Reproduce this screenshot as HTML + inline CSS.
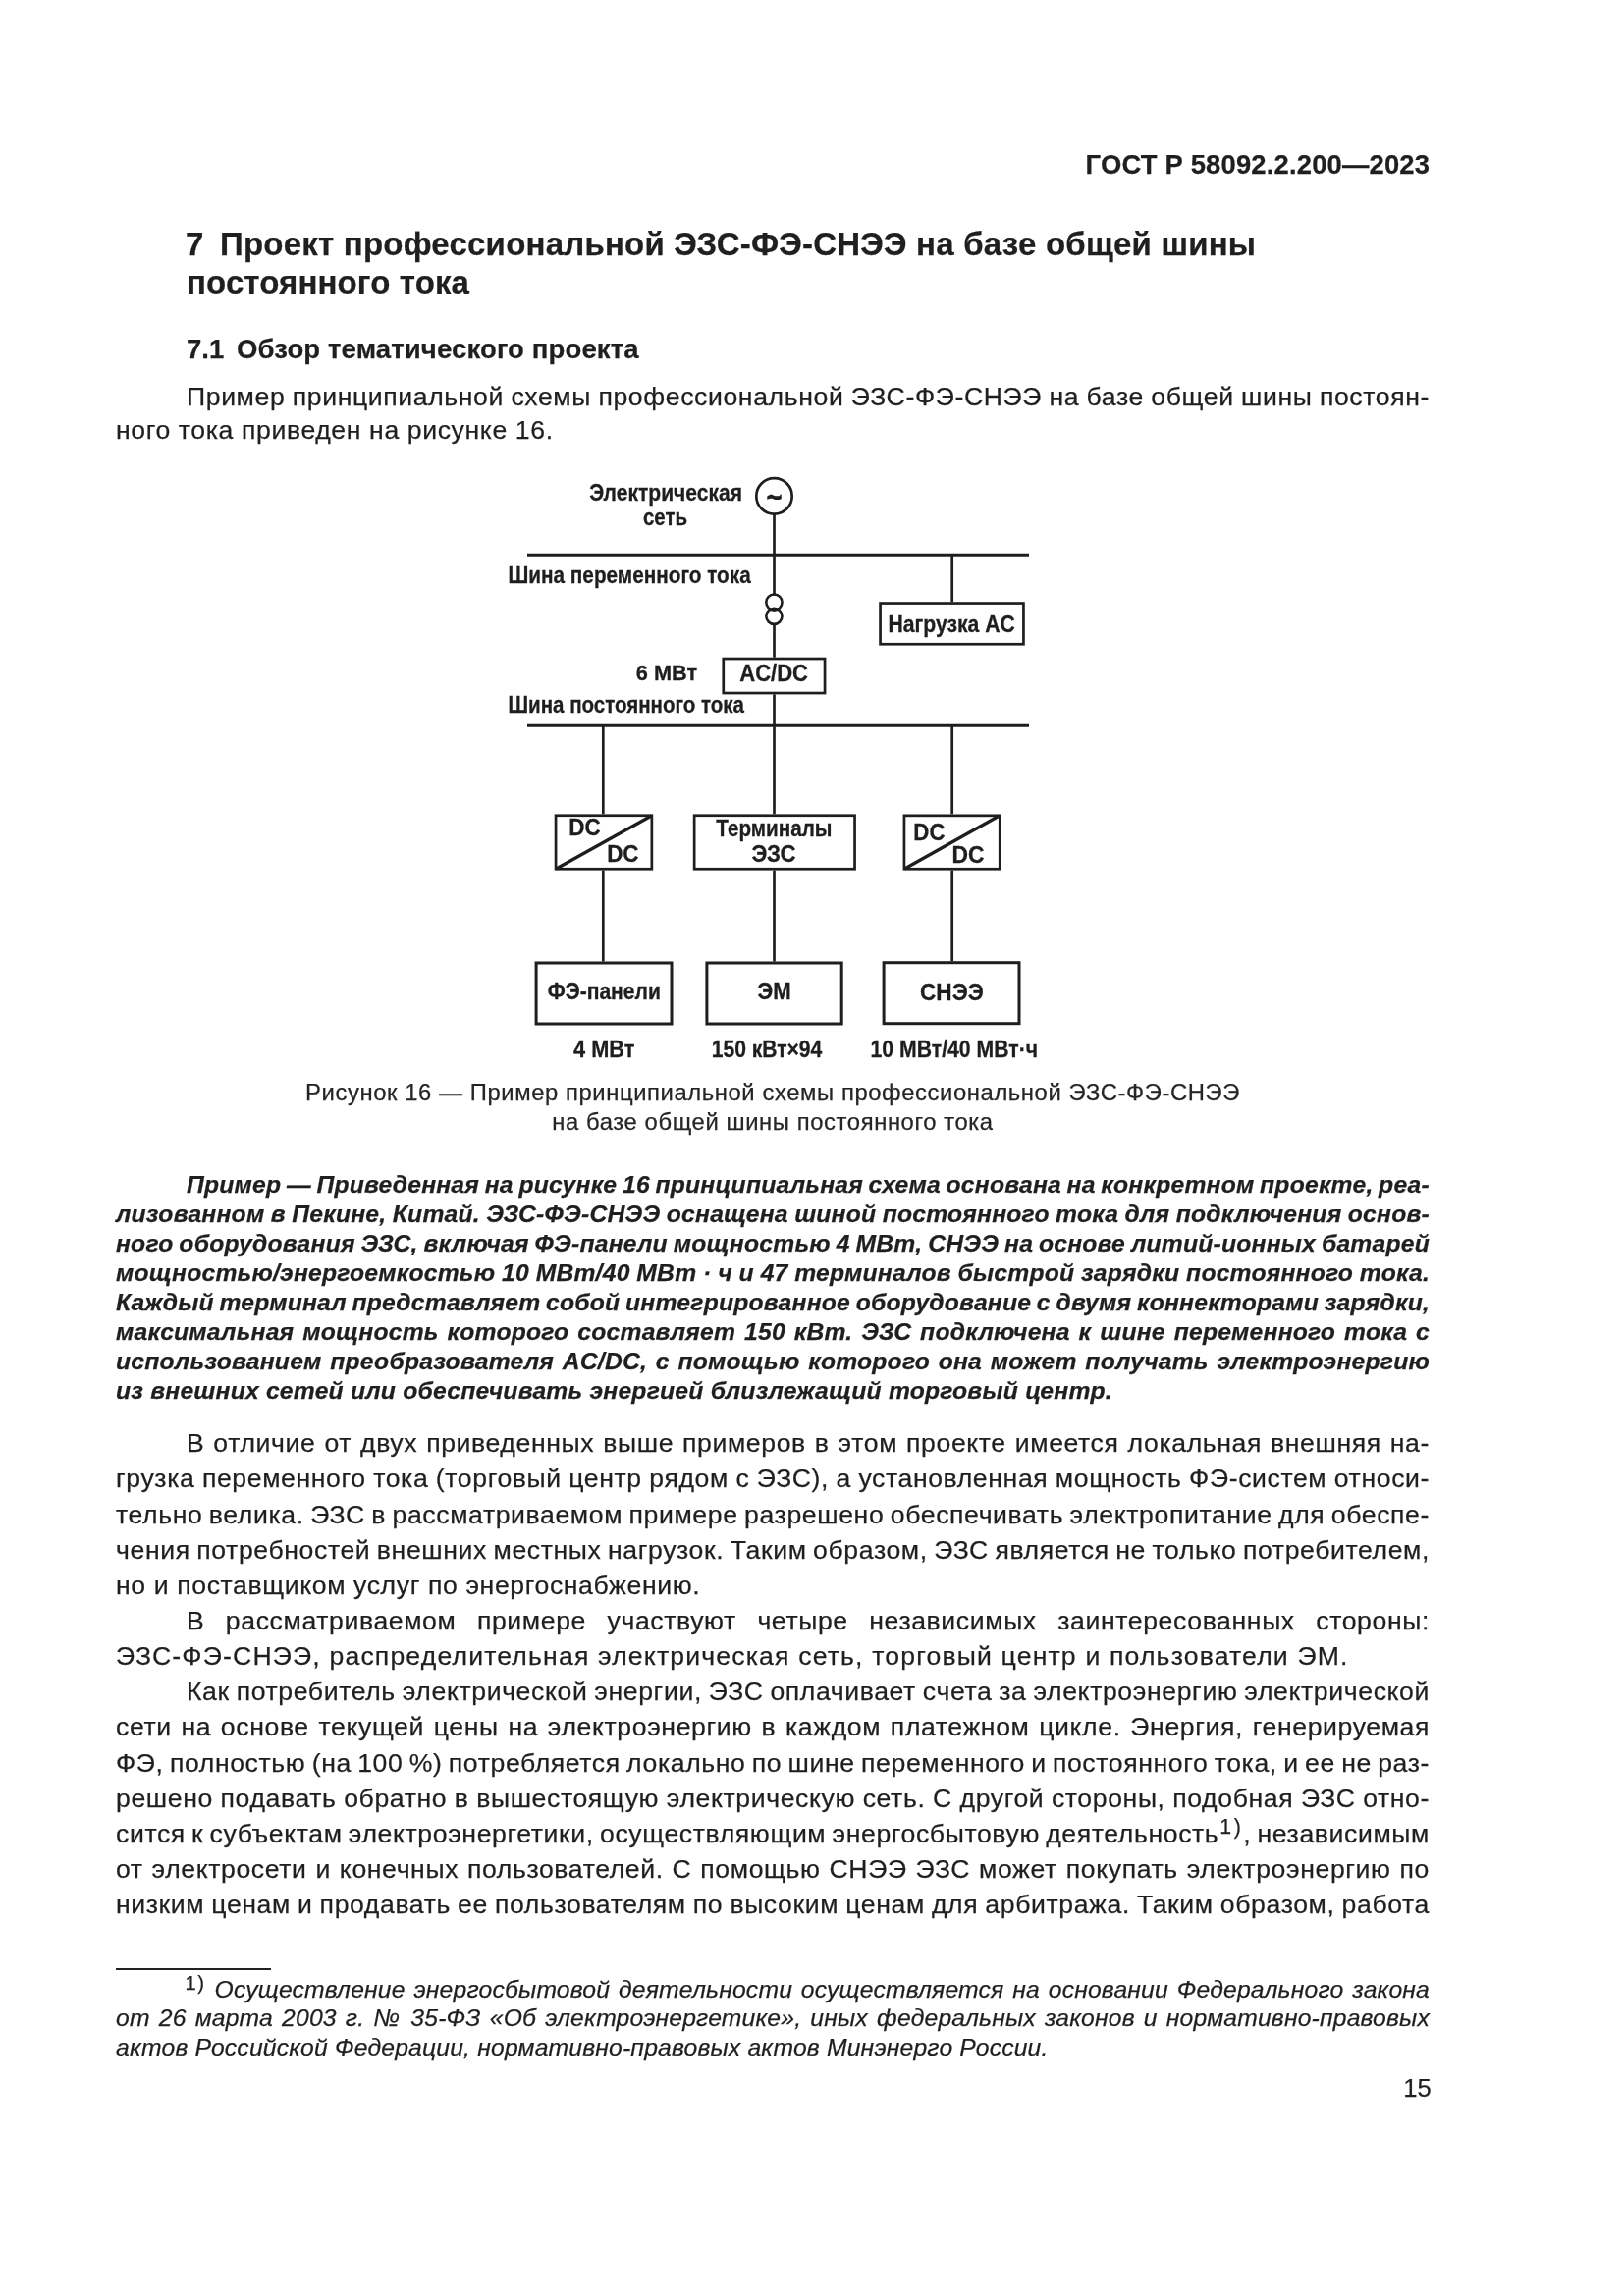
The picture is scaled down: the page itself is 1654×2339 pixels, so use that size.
<!DOCTYPE html>
<html><head><meta charset="utf-8">
<style>
html,body{margin:0;padding:0;background:#fff;}
body{width:1654px;height:2339px;position:relative;overflow:hidden;font-family:"Liberation Sans",sans-serif;color:#1f1f1f;}
.l{position:absolute;white-space:nowrap;will-change:transform;-webkit-text-stroke:0.25px #1f1f1f;}
.b{font-weight:bold;}
.bi{font-weight:bold;font-style:italic;}
.it{font-style:italic;}
.cap{color:#262626;}
sup{font-size:80%;line-height:0;vertical-align:0.43em;letter-spacing:2.5px;margin-left:1px;}
sup.fs{font-style:normal;font-size:82%;vertical-align:0.42em;letter-spacing:1.6px;margin-left:-1.5px;}
</style></head><body>
<div class="l b" style="left:118.0px;top:153.8px;font-size:27.4px;line-height:27.4px;width:1338.2px;text-align:right;letter-spacing:0.180px;">ГОСТ Р 58092.2.200—2023</div><div class="l b" style="left:189.0px;top:232.1px;font-size:33px;line-height:33px;">7</div><div class="l b" style="left:224.0px;top:232.1px;font-size:33px;line-height:33px;letter-spacing:0.220px;">Проект профессиональной ЭЗС-ФЭ-СНЭЭ на базе общей шины</div><div class="l b" style="left:189.5px;top:271.1px;font-size:33px;line-height:33px;letter-spacing:0.120px;">постоянного тока</div><div class="l b" style="left:189.5px;top:341.7px;font-size:27.5px;line-height:27.5px;">7.1</div><div class="l b" style="left:241.0px;top:341.7px;font-size:27.5px;line-height:27.5px;letter-spacing:0.130px;">Обзор тематического проекта</div><div class="l " style="left:190.0px;top:391.3px;font-size:26.6px;line-height:26.6px;width:1266.0px;text-align:justify;text-align-last:justify;letter-spacing:0.620px;word-spacing:-0.74px;">Пример принципиальной схемы профессиональной ЭЗС-ФЭ-СНЭЭ на базе общей шины постоян-</div><div class="l " style="left:118.0px;top:424.7px;font-size:26.6px;line-height:26.6px;width:1338.0px;letter-spacing:0.620px;">ного тока приведен на рисунке 16.</div><div class="l cap" style="left:118.0px;top:1101.4px;font-size:23.8px;line-height:23.8px;width:1338.0px;text-align:center;letter-spacing:0.600px;">Рисунок 16 — Пример принципиальной схемы профессиональной ЭЗС-ФЭ-СНЭЭ</div><div class="l cap" style="left:118.0px;top:1130.9px;font-size:23.8px;line-height:23.8px;width:1338.0px;text-align:center;letter-spacing:0.600px;">на базе общей шины постоянного тока</div><div class="l bi" style="left:190.0px;top:1194.8px;font-size:24.7px;line-height:24.7px;width:1266.0px;text-align:justify;text-align-last:justify;letter-spacing:0.210px;word-spacing:-1.57px;">Пример — Приведенная на рисунке 16 принципиальная схема основана на конкретном проекте, реа-</div><div class="l bi" style="left:118.0px;top:1224.8px;font-size:24.7px;line-height:24.7px;width:1338.0px;text-align:justify;text-align-last:justify;letter-spacing:0.210px;word-spacing:-0.83px;">лизованном в Пекине, Китай. ЭЗС-ФЭ-СНЭЭ оснащена шиной постоянного тока для подключения основ-</div><div class="l bi" style="left:118.0px;top:1254.8px;font-size:24.7px;line-height:24.7px;width:1338.0px;text-align:justify;text-align-last:justify;letter-spacing:0.210px;word-spacing:-1.32px;">ного оборудования ЭЗС, включая ФЭ-панели мощностью 4 МВт, СНЭЭ на основе литий-ионных батарей</div><div class="l bi" style="left:118.0px;top:1284.8px;font-size:24.7px;line-height:24.7px;width:1338.0px;text-align:justify;text-align-last:justify;letter-spacing:0.210px;word-spacing:-0.45px;">мощностью/энергоемкостью 10 МВт/40 МВт · ч и 47 терминалов быстрой зарядки постоянного тока.</div><div class="l bi" style="left:118.0px;top:1314.8px;font-size:24.7px;line-height:24.7px;width:1338.0px;text-align:justify;text-align-last:justify;letter-spacing:0.210px;word-spacing:-1.59px;">Каждый терминал представляет собой интегрированное оборудование с двумя коннекторами зарядки,</div><div class="l bi" style="left:118.0px;top:1344.8px;font-size:24.7px;line-height:24.7px;width:1338.0px;text-align:justify;text-align-last:justify;letter-spacing:0.210px;">максимальная мощность которого составляет 150 кВт. ЭЗС подключена к шине переменного тока с</div><div class="l bi" style="left:118.0px;top:1374.8px;font-size:24.7px;line-height:24.7px;width:1338.0px;text-align:justify;text-align-last:justify;letter-spacing:0.210px;">использованием преобразователя AC/DC, с помощью которого она может получать электроэнергию</div><div class="l bi" style="left:118.0px;top:1404.8px;font-size:24.7px;line-height:24.7px;width:1338.0px;letter-spacing:0.210px;">из внешних сетей или обеспечивать энергией близлежащий торговый центр.</div><div class="l " style="left:190.0px;top:1457.2px;font-size:26.6px;line-height:26.6px;width:1266.0px;text-align:justify;text-align-last:justify;letter-spacing:0.620px;">В отличие от двух приведенных выше примеров в этом проекте имеется локальная внешняя на-</div><div class="l " style="left:118.0px;top:1493.3px;font-size:26.6px;line-height:26.6px;width:1338.0px;text-align:justify;text-align-last:justify;letter-spacing:0.620px;word-spacing:-0.60px;">грузка переменного тока (торговый центр рядом с ЭЗС), а установленная мощность ФЭ-систем относи-</div><div class="l " style="left:118.0px;top:1529.5px;font-size:26.6px;line-height:26.6px;width:1338.0px;text-align:justify;text-align-last:justify;letter-spacing:0.620px;word-spacing:-1.66px;">тельно велика. ЭЗС в рассматриваемом примере разрешено обеспечивать электропитание для обеспе-</div><div class="l " style="left:118.0px;top:1565.6px;font-size:26.6px;line-height:26.6px;width:1338.0px;text-align:justify;text-align-last:justify;letter-spacing:0.620px;word-spacing:-1.58px;">чения потребностей внешних местных нагрузок. Таким образом, ЭЗС является не только потребителем,</div><div class="l " style="left:118.0px;top:1601.8px;font-size:26.6px;line-height:26.6px;width:1338.0px;letter-spacing:0.620px;">но и поставщиком услуг по энергоснабжению.</div><div class="l " style="left:190.0px;top:1637.9px;font-size:26.6px;line-height:26.6px;width:1266.0px;text-align:justify;text-align-last:justify;letter-spacing:0.620px;">В рассматриваемом примере участвуют четыре независимых заинтересованных стороны:</div><div class="l " style="left:118.0px;top:1674.1px;font-size:26.6px;line-height:26.6px;width:1338.0px;letter-spacing:1.170px;">ЭЗС-ФЭ-СНЭЭ, распределительная электрическая сеть, торговый центр и пользователи ЭМ.</div><div class="l " style="left:190.0px;top:1710.2px;font-size:26.6px;line-height:26.6px;width:1266.0px;text-align:justify;text-align-last:justify;letter-spacing:0.620px;word-spacing:-1.23px;">Как потребитель электрической энергии, ЭЗС оплачивает счета за электроэнергию электрической</div><div class="l " style="left:118.0px;top:1746.4px;font-size:26.6px;line-height:26.6px;width:1338.0px;text-align:justify;text-align-last:justify;letter-spacing:0.620px;">сети на основе текущей цены на электроэнергию в каждом платежном цикле. Энергия, генерируемая</div><div class="l " style="left:118.0px;top:1782.5px;font-size:26.6px;line-height:26.6px;width:1338.0px;text-align:justify;text-align-last:justify;letter-spacing:0.620px;word-spacing:-1.77px;">ФЭ, полностью (на 100 %) потребляется локально по шине переменного и постоянного тока, и ее не раз-</div><div class="l " style="left:118.0px;top:1818.7px;font-size:26.6px;line-height:26.6px;width:1338.0px;text-align:justify;text-align-last:justify;letter-spacing:0.620px;word-spacing:-0.48px;">решено подавать обратно в вышестоящую электрическую сеть. С другой стороны, подобная ЭЗС отно-</div><div class="l " style="left:118.0px;top:1854.8px;font-size:26.6px;line-height:26.6px;width:1338.0px;text-align:justify;text-align-last:justify;letter-spacing:0.620px;word-spacing:-2.16px;">сится к субъектам электроэнергетики, осуществляющим энергосбытовую деятельность<sup>1)</sup>, независимым</div><div class="l " style="left:118.0px;top:1891.0px;font-size:26.6px;line-height:26.6px;width:1338.0px;text-align:justify;text-align-last:justify;letter-spacing:0.620px;">от электросети и конечных пользователей. С помощью СНЭЭ ЭЗС может покупать электроэнергию по</div><div class="l " style="left:118.0px;top:1927.1px;font-size:26.6px;line-height:26.6px;width:1338.0px;text-align:justify;text-align-last:justify;letter-spacing:0.620px;word-spacing:-1.00px;">низким ценам и продавать ее пользователям по высоким ценам для арбитража. Таким образом, работа</div><div style="position:absolute;left:118px;top:2005px;width:158px;height:2.4px;background:#222"></div><div class="l it" style="left:190.0px;top:2014.9px;font-size:24.7px;line-height:24.7px;width:1266.0px;text-align:justify;text-align-last:justify;letter-spacing:0.185px;"><sup class="fs">1)</sup> Осуществление энергосбытовой деятельности осуществляется на основании Федерального закона</div><div class="l it" style="left:118.0px;top:2044.4px;font-size:24.7px;line-height:24.7px;width:1338.0px;text-align:justify;text-align-last:justify;letter-spacing:0.185px;">от 26 марта 2003 г. № 35-ФЗ «Об электроэнергетике», иных федеральных законов и нормативно-правовых</div><div class="l it" style="left:118.0px;top:2073.9px;font-size:24.7px;line-height:24.7px;width:1338.0px;letter-spacing:0.185px;">актов Российской Федерации, нормативно-правовых актов Минэнерго России.</div><div class="l " style="left:118.0px;top:2114.8px;font-size:25.6px;line-height:25.6px;width:1339.8px;text-align:right;">15</div>
<svg style="position:absolute;left:0;top:0;will-change:transform" width="1654" height="2339" viewBox="0 0 1654 2339" font-family="Liberation Sans, sans-serif" font-weight="bold" fill="#1e1e1e"><circle cx="788.5" cy="505.4" r="18.2" fill="none" stroke="#1e1e1e" stroke-width="2.7"/><path d="M781.2,508.8 L781.4,505.2 L785.2,503.5 L789.5,505.3 L793.4,505.3 L795.5,503.1 L795.9,508.0 L793.6,508.9 L789.4,508.9 L785.6,507.5 L782.8,508.3 Z" fill="#1e1e1e"/><line x1="788.5" y1="523.6" x2="788.5" y2="606.5" stroke="#1e1e1e" stroke-width="2.7"/><line x1="537" y1="565.3" x2="1048" y2="565.3" stroke="#1e1e1e" stroke-width="3"/><circle cx="788.4" cy="613.6" r="8.1" fill="none" stroke="#1e1e1e" stroke-width="2.6"/><circle cx="788.4" cy="627.8" r="8.1" fill="none" stroke="#1e1e1e" stroke-width="2.6"/><line x1="788.5" y1="635.5" x2="788.5" y2="669.7" stroke="#1e1e1e" stroke-width="2.7"/><rect x="736.75" y="671.05" width="103.30" height="35.00" fill="none" stroke="#1e1e1e" stroke-width="2.7"/><line x1="788.5" y1="707.4" x2="788.5" y2="829.4" stroke="#1e1e1e" stroke-width="2.7"/><line x1="969.7" y1="565.3" x2="969.7" y2="613.2" stroke="#1e1e1e" stroke-width="2.7"/><rect x="896.55" y="614.55" width="145.90" height="41.70" fill="none" stroke="#1e1e1e" stroke-width="2.7"/><line x1="537" y1="739.3" x2="1048" y2="739.3" stroke="#1e1e1e" stroke-width="3"/><line x1="614.3" y1="739.3" x2="614.3" y2="829.4" stroke="#1e1e1e" stroke-width="2.7"/><line x1="969.7" y1="739.3" x2="969.7" y2="829.4" stroke="#1e1e1e" stroke-width="2.7"/><rect x="566.05" y="830.75" width="97.80" height="54.50" fill="none" stroke="#1e1e1e" stroke-width="2.7"/><line x1="566.5" y1="885" x2="663.5" y2="831" stroke="#1e1e1e" stroke-width="3.2"/><line x1="614.3" y1="886.6" x2="614.3" y2="979.5" stroke="#1e1e1e" stroke-width="2.7"/><rect x="707.15" y="830.75" width="163.40" height="54.50" fill="none" stroke="#1e1e1e" stroke-width="2.7"/><line x1="788.5" y1="886.6" x2="788.5" y2="979.5" stroke="#1e1e1e" stroke-width="2.7"/><rect x="920.95" y="830.85" width="97.30" height="54.40" fill="none" stroke="#1e1e1e" stroke-width="2.7"/><line x1="921.4" y1="885" x2="1017.8" y2="831" stroke="#1e1e1e" stroke-width="3.2"/><line x1="969.7" y1="886.6" x2="969.7" y2="979.2" stroke="#1e1e1e" stroke-width="2.7"/><rect x="546.10" y="981.00" width="137.90" height="62.00" fill="none" stroke="#1e1e1e" stroke-width="3"/><rect x="719.90" y="981.00" width="137.30" height="62.00" fill="none" stroke="#1e1e1e" stroke-width="3"/><rect x="900.10" y="980.70" width="137.90" height="62.00" fill="none" stroke="#1e1e1e" stroke-width="3"/><text transform="translate(600.15,509.6) scale(0.916,1)" x="0" y="0" font-size="23" stroke="#1e1e1e" stroke-width="0.3">Электрическая</text><text transform="translate(654.9,535.4) scale(0.891,1)" x="0" y="0" font-size="23" stroke="#1e1e1e" stroke-width="0.3">сеть</text><text transform="translate(517.45,593.7) scale(0.902,1)" x="0" y="0" font-size="23" stroke="#1e1e1e" stroke-width="0.3">Шина переменного тока</text><text transform="translate(517.46,726.3) scale(0.892,1)" x="0" y="0" font-size="23" stroke="#1e1e1e" stroke-width="0.3">Шина постоянного тока</text><text transform="translate(904.42,644) scale(0.921,1)" x="0" y="0" font-size="23" stroke="#1e1e1e" stroke-width="0.3">Нагрузка AC</text><text transform="translate(647.74,693) scale(0.947,1)" x="0" y="0" font-size="23" stroke="#1e1e1e" stroke-width="0.3">6 МВт</text><text transform="translate(753.22,694.1) scale(0.959,1)" x="0" y="0" font-size="23" stroke="#1e1e1e" stroke-width="0.3">AC/DC</text><text transform="translate(579.33,851.4) scale(0.977,1)" x="0" y="0" font-size="23" stroke="#1e1e1e" stroke-width="0.3">DC</text><text transform="translate(618.13,877.6) scale(0.977,1)" x="0" y="0" font-size="23" stroke="#1e1e1e" stroke-width="0.3">DC</text><text transform="translate(930.35,855.9) scale(0.968,1)" x="0" y="0" font-size="23" stroke="#1e1e1e" stroke-width="0.3">DC</text><text transform="translate(969.61,878.5) scale(0.994,1)" x="0" y="0" font-size="23" stroke="#1e1e1e" stroke-width="0.3">DC</text><text transform="translate(729.32,851.8) scale(0.899,1)" x="0" y="0" font-size="23" stroke="#1e1e1e" stroke-width="0.3">Терминалы</text><text transform="translate(765.52,877.6) scale(0.969,1)" x="0" y="0" font-size="23" stroke="#1e1e1e" stroke-width="0.3">ЭЗС</text><text transform="translate(557.67,1017.9) scale(0.917,1)" x="0" y="0" font-size="23" stroke="#1e1e1e" stroke-width="0.3">ФЭ-панели</text><text transform="translate(771.42,1017.9) scale(0.964,1)" x="0" y="0" font-size="23" stroke="#1e1e1e" stroke-width="0.3">ЭМ</text><text transform="translate(937.02,1018.5) scale(0.983,1)" x="0" y="0" font-size="23" stroke="#1e1e1e" stroke-width="0.3">СНЭЭ</text><text transform="translate(584.12,1076.5) scale(0.945,1)" x="0" y="0" font-size="23" stroke="#1e1e1e" stroke-width="0.3">4 МВт</text><text transform="translate(724.72,1076.5) scale(0.917,1)" x="0" y="0" font-size="23" stroke="#1e1e1e" stroke-width="0.3">150 кВт×94</text><text transform="translate(886.51,1076.7) scale(0.923,1)" x="0" y="0" font-size="23" stroke="#1e1e1e" stroke-width="0.3">10 МВт/40 МВт·ч</text></svg>
</body></html>
